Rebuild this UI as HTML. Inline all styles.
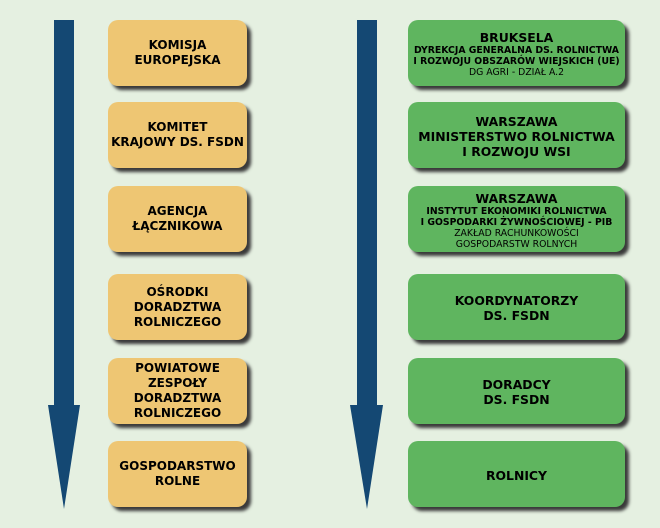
<!DOCTYPE html>
<html><head><meta charset="utf-8"><style>
body{margin:0;width:660px;height:528px;background:#e5f0e1;position:relative;overflow:hidden;font-family:"DejaVu Sans","Liberation Sans",sans-serif;font-weight:bold;color:#000}
.b{position:absolute;border-radius:10px;box-shadow:4px 4px 3px #3a3a3a;display:flex;flex-direction:column;justify-content:center;align-items:center;text-align:center;font-size:12px;line-height:15px}
.o{background:#eec673;left:108px;width:139px}
.g{background:#5fb55f;left:408px;width:217px;font-size:12.4px;padding-top:2px;box-sizing:border-box}
.s{font-size:9.3px;line-height:11px}
.n{font-weight:normal;font-size:9.3px;line-height:11px}
svg{position:absolute;left:0;top:0}
</style></head><body>
<svg width="660" height="528">
<rect x="54" y="20" width="20" height="388" fill="#144873"/>
<polygon points="48,405 80,405 64,509" fill="#144873"/>
<rect x="357" y="20" width="20" height="388" fill="#144873"/>
<polygon points="350,405 383,405 367,509" fill="#144873"/>
</svg>
<div class="b o" style="top:20px;height:66px">KOMISJA<br>EUROPEJSKA</div>
<div class="b o" style="top:102px;height:66px">KOMITET<br>KRAJOWY DS. FSDN</div>
<div class="b o" style="top:186px;height:66px">AGENCJA<br>ŁĄCZNIKOWA</div>
<div class="b o" style="top:274px;height:66px">OŚRODKI<br>DORADZTWA<br>ROLNICZEGO</div>
<div class="b o" style="top:358px;height:66px">POWIATOWE<br>ZESPOŁY<br>DORADZTWA<br>ROLNICZEGO</div>
<div class="b o" style="top:441px;height:66px">GOSPODARSTWO<br>ROLNE</div>
<div class="b g" style="top:20px;height:66px"><div>BRUKSELA</div><div class="s">DYREKCJA GENERALNA DS. ROLNICTWA<br>I ROZWOJU OBSZARÓW WIEJSKICH (UE)</div><div class="n">DG AGRI - DZIAŁ A.2</div></div>
<div class="b g" style="top:102px;height:66px">WARSZAWA<br>MINISTERSTWO ROLNICTWA<br>I ROZWOJU WSI</div>
<div class="b g" style="top:186px;height:66px"><div>WARSZAWA</div><div class="s">INSTYTUT EKONOMIKI ROLNICTWA<br>I GOSPODARKI ŻYWNOŚCIOWEJ - PIB</div><div class="n">ZAKŁAD RACHUNKOWOŚCI<br>GOSPODARSTW ROLNYCH</div></div>
<div class="b g" style="top:274px;height:66px">KOORDYNATORZY<br>DS. FSDN</div>
<div class="b g" style="top:358px;height:66px">DORADCY<br>DS. FSDN</div>
<div class="b g" style="top:441px;height:66px">ROLNICY</div>
</body></html>
